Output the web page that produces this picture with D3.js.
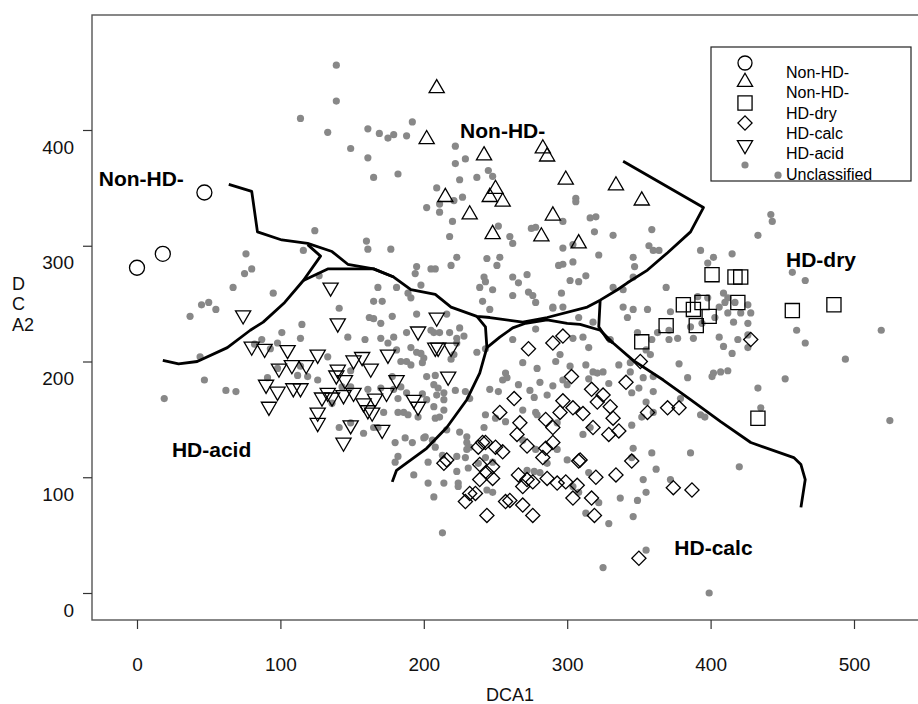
<!DOCTYPE html>
<html>
<head>
<meta charset="utf-8">
<script src="https://cdn.jsdelivr.net/npm/d3@7"></script>
<style>
  html, body { margin: 0; padding: 0; background: #fff; }
  svg { display: block; font-family: "Liberation Sans", Arial, Helvetica, sans-serif; }
</style>
</head>
<body>
<svg id="chart" width="918" height="704"></svg>
<script>
// ---------------- DATA (DCA1, DCA2) ----------------
const xTicks = [0, 100, 200, 300, 400, 500];
const yTicks = [0, 100, 200, 300, 400];

const legendLabels = ["Non-HD-", "Non-HD-", "HD-dry", "HD-calc", "HD-acid", "Unclassified"];

const nonHdLeft = [[0,281],[18,293],[47,346]];

const nonHdTop = [[209,436],[202,392],[242,378],[283,384],[286,377],[299,357],[334,352],[352,339],
  [250,349],[246,342],[255,338],[215,342],[232,327],[290,326],[248,310],[282,308],[308,302]];

const hdDry = [[401,275],[417,273],[421,273],[381,249],[388,245],[394,251],[399,239],[419,251],
  [457,244],[486,249],[369,231],[390,231],[352,217],[433,151]];

const hdCalc = [[297,222],[290,216],[273,211],[351,200],[428,219],[303,187],[341,182],[317,176],
  [325,171],[263,168],[297,166],[304,160],[295,156],[311,155],[330,161],[321,165],[332,151],
  [356,156],[370,160],[378,160],[253,156],[267,147],[285,150],[290,143],[318,143],[329,137],
  [336,140],[265,137],[290,130],[241,130],[250,126],[272,127],[285,125],[255,122],[283,117],
  [309,115],[345,114],[216,115],[214,112],[239,111],[248,109],[244,104],[239,98],[248,99],
  [266,102],[272,98],[276,96],[269,92],[236,86],[232,86],[229,79],[257,79],[260,80],[269,76],
  [276,67],[244,67],[286,99],[293,95],[299,96],[304,82],[307,93],[308,114],[320,100],[334,102],
  [317,82],[319,67],[374,91],[387,89],[350,30],[243,130],[238,126]];

const hdAcid = [[135,264],[74,240],[140,233],[196,226],[209,238],[80,213],[89,211],[105,210],
  [126,206],[99,194],[108,197],[118,197],[151,201],[157,204],[163,194],[175,206],[208,212],
  [210,212],[219,212],[139,188],[145,184],[140,193],[217,187],[181,184],[90,180],[98,174],
  [109,177],[114,177],[133,173],[129,169],[144,171],[151,173],[166,168],[174,173],[193,167],
  [196,161],[92,161],[126,156],[126,147],[158,164],[161,158],[164,156],[149,145],[171,141],
  [144,130],[136,169]];

const unclassified = [[139,456],[139,425],[114,410],[133,398],[161,401],[169,397],[175,393],[179,396],
  [192,407],[188,395],[149,384],[161,376],[222,386],[229,375],[222,371],[165,359],[182,362],
  [225,357],[237,359],[245,365],[248,360],[209,350],[227,342],[221,339],[211,336],[202,333],
  [211,329],[220,321],[218,308],[124,313],[160,304],[161,297],[177,297],[116,296],[76,293],
  [80,280],[75,276],[223,290],[244,289],[219,283],[205,280],[208,280],[195,282],[194,276],
  [127,274],[67,264],[95,259],[168,264],[181,264],[198,266],[189,259],[191,255],[242,273],
  [239,264],[241,252],[243,269],[45,249],[50,251],[55,245],[37,239],[141,246],[162,238],
  [165,237],[170,233],[178,239],[195,241],[216,241],[225,229],[218,225],[228,222],[207,225],
  [205,227],[188,225],[179,221],[115,232],[101,225],[87,219],[114,220],[147,221],[159,219],
  [170,220],[223,220],[165,252],[171,252],[237,208],[243,211],[98,216],[82,215],[93,211],
  [44,204],[47,184],[62,175],[69,174],[19,168],[133,204],[114,196],[98,194],[112,188],
  [119,187],[126,184],[91,186],[149,192],[149,178],[161,176],[170,177],[179,176],[181,210],
  [184,200],[188,200],[191,197],[191,212],[195,208],[198,207],[200,203],[202,187],[208,188],
  [207,180],[210,177],[214,173],[209,171],[222,175],[229,174],[232,168],[214,167],[182,168],
  [172,156],[186,156],[189,154],[196,152],[211,152],[214,158],[208,151],[136,164],[143,178],
  [149,147],[141,143],[158,138],[165,143],[168,143],[180,130],[187,134],[192,130],[200,134],
  [201,135],[216,141],[225,139],[230,135],[230,130],[230,124],[223,118],[213,119],[203,113],
  [182,118],[180,113],[193,102],[203,95],[214,95],[224,95],[223,105],[207,83],[224,92],
  [213,52],[211,225],[175,216],[223,216],[221,206],[199,199],[219,202],[178,187],[184,178],
  [188,173],[202,167],[199,172],[182,156],[207,161],[206,132],[208,126],[232,126],[229,117],
  [231,108],[244,89],[248,87],[238,112],[243,117],[248,113],[272,106],[277,105],[281,104],
  [304,92],[308,87],[315,104],[322,78],[313,69],[329,60],[337,82],[346,66],[349,80],[355,87],
  [353,98],[362,107],[359,121],[372,98],[386,121],[346,125],[420,109],[345,117],[325,22],
  [355,37],[399,0],[278,251],[290,247],[297,247],[308,238],[318,234],[278,228],[262,219],
  [295,206],[315,212],[330,219],[313,197],[302,196],[318,191],[321,190],[325,191],[336,197],
  [344,199],[281,182],[297,184],[300,180],[290,179],[315,185],[329,181],[344,191],[353,186],
  [360,187],[345,173],[350,177],[360,174],[355,165],[277,169],[286,171],[257,190],[255,184],
  [266,180],[246,176],[252,174],[269,158],[278,156],[311,137],[316,143],[345,145],[352,152],
  [360,156],[379,168],[384,186],[393,154],[396,152],[402,190],[407,191],[412,192],[401,187],
  [433,177],[435,160],[415,207],[426,212],[426,223],[419,219],[409,213],[406,221],[388,220],
  [386,230],[371,227],[363,225],[359,219],[355,210],[358,206],[416,234],[421,242],[346,245],
  [342,238],[356,245],[339,247],[372,243],[403,238],[252,317],[260,308],[262,302],[253,290],
  [251,283],[262,273],[272,275],[266,268],[248,262],[273,260],[276,257],[262,257],[246,245],
  [306,341],[306,338],[297,321],[316,324],[320,325],[319,312],[332,309],[359,314],[278,316],
  [275,315],[297,298],[304,301],[322,292],[297,284],[294,283],[304,286],[346,290],[347,282],
  [346,273],[357,300],[360,296],[364,296],[313,274],[302,270],[308,269],[296,259],[290,246],
  [332,264],[339,262],[304,220],[311,221],[292,200],[269,199],[279,194],[258,186],[274,175],
  [250,151],[257,148],[279,154],[293,147],[269,132],[293,124],[278,124],[286,112],[300,115],
  [369,264],[377,220],[371,219],[394,233],[426,233],[428,242],[426,249],[412,255],[409,259],
  [410,251],[412,242],[406,247],[391,256],[398,255],[417,251],[398,285],[402,290],[415,293],
  [393,296],[442,327],[443,321],[433,309],[457,277],[466,270],[460,227],[466,216],[494,202],
  [519,227],[525,149],[452,185],[378,198],[349,225],[243,154],[242,143],[447,361]];

// boundary lines
const boundaryA = [[64,353],[80,347],[84,312],[101,305],[119,302],[136,295],[147,284],[165,280],
  [179,273],[191,262],[208,258],[219,247],[237,239],[246,238],[269,234],[286,238],[314,247],
  [323,253],[335,262],[342,268],[356,279],[370,294],[386,312],[395,333],[339,373]];
const boundaryB = [[18,201],[29,198],[42,200],[63,212],[79,227],[88,234],[103,251],[116,270],
  [128,291],[119,301]];
const boundaryC = [[116,270],[133,280],[165,280],[179,273]];
const boundaryD = [[237,239],[243,230],[244,212],[239,190],[230,167],[216,143],[202,125],
  [191,115],[181,106],[178,96]];
const boundaryE = [[244,212],[253,221],[262,229],[271,233],[286,236],[300,233],[309,232],
  [323,227],[332,216],[346,201],[367,184],[386,167],[407,148],[428,130],[458,117],[463,111],
  [466,98],[463,74]];
const boundaryF = [[323,253],[322,230],[328,219],[332,216]];

const regionLabels = [
  {text: "Non-HD-", x: 3, y: 352},
  {text: "Non-HD-", x: 255, y: 393},
  {text: "HD-dry", x: 477, y: 282},
  {text: "HD-acid", x: 52, y: 117.5},
  {text: "HD-calc", x: 402, y: 33}
];

// ---------------- DRAWING ----------------
const svg = d3.select("#chart");
const x = d3.scaleLinear().domain([0, 500]).range([137, 854]);
const y = d3.scaleLinear().domain([0, 400]).range([593, 130]);

const frameLeft = 92, frameTop = 15, frameBottom = 620;

svg.append("rect")
  .attr("x", frameLeft).attr("y", frameTop)
  .attr("width", 918 - frameLeft + 20).attr("height", frameBottom - frameTop)
  .attr("fill", "none").attr("stroke", "#555").attr("stroke-width", 1.4);

const xAxis = svg.append("g").attr("transform", `translate(0,${frameBottom})`)
  .call(d3.axisBottom(x).tickValues(xTicks).tickSize(9).tickPadding(29).tickFormat(d3.format("d")));
xAxis.select(".domain").remove();
xAxis.selectAll("line").attr("stroke", "#333").attr("stroke-width", 1.2);
xAxis.selectAll("text").attr("font-size", 19).attr("fill", "#111")
  .attr("font-family", "Liberation Sans, Arial, sans-serif");

const yAxis = svg.append("g").attr("transform", `translate(${frameLeft},0)`)
  .call(d3.axisLeft(y).tickValues(yTicks).tickSize(9).tickPadding(9).tickFormat(d3.format("d")));
yAxis.select(".domain").remove();
yAxis.selectAll("line").attr("stroke", "#333").attr("stroke-width", 1.2);
yAxis.selectAll("text").attr("font-size", 19).attr("fill", "#111")
  .attr("dy", null).attr("y", 23)
  .attr("font-family", "Liberation Sans, Arial, sans-serif");

svg.append("text").attr("x", 510).attr("y", 701).attr("text-anchor", "middle")
  .attr("font-size", 18).attr("fill", "#111").text("DCA1");
[["D", 290], ["C", 310], ["A2", 331]].forEach(([t, yy]) => {
  svg.append("text").attr("x", 12).attr("y", yy).attr("font-size", 18).attr("fill", "#111").text(t);
});

const legend = svg.append("g");
legend.append("rect").attr("x", 711).attr("y", 47).attr("width", 200).attr("height", 134)
  .attr("fill", "#fff").attr("stroke", "#222").attr("stroke-width", 1.2);

svg.append("g").selectAll("circle").data(unclassified).join("circle")
  .attr("cx", d => x(d[0])).attr("cy", d => y(d[1])).attr("r", 3.6).attr("fill", "#888");

const line = d3.line().x(d => x(d[0])).y(d => y(d[1]));
[boundaryA, boundaryB, boundaryC, boundaryD, boundaryE, boundaryF].forEach(b => {
  svg.append("path").attr("d", line(b)).attr("fill", "none")
    .attr("stroke", "#000").attr("stroke-width", 2.8).attr("stroke-linejoin", "round");
});

const symStyle = sel => sel.attr("fill", "none").attr("stroke", "#000").attr("stroke-width", 1.3);
const triUp = d3.symbol().type(d3.symbolTriangle).size(100)();
const square = d3.symbol().type(d3.symbolSquare).size(200)();
const diamond = d3.symbol().type(d3.symbolSquare).size(100)();

svg.append("g").selectAll("circle").data(nonHdLeft).join("circle")
  .attr("cx", d => x(d[0])).attr("cy", d => y(d[1])).attr("r", 7.5).call(symStyle);
svg.append("g").selectAll("path").data(nonHdTop).join("path")
  .attr("d", triUp).attr("transform", d => `translate(${x(d[0])},${y(d[1])})`).call(symStyle);
svg.append("g").selectAll("path").data(hdDry).join("path")
  .attr("d", square).attr("transform", d => `translate(${x(d[0])},${y(d[1])})`).call(symStyle);
svg.append("g").selectAll("path").data(hdCalc).join("path")
  .attr("d", diamond).attr("transform", d => `translate(${x(d[0])},${y(d[1])}) rotate(45)`).call(symStyle);
svg.append("g").selectAll("path").data(hdAcid).join("path")
  .attr("d", triUp).attr("transform", d => `translate(${x(d[0])},${y(d[1])}) rotate(180)`).call(symStyle);

svg.append("g").selectAll("text").data(regionLabels).join("text")
  .attr("x", d => x(d.x)).attr("y", d => y(d.y)).attr("text-anchor", "middle")
  .attr("font-size", 21).attr("font-weight", "bold").attr("fill", "#000").text(d => d.text);

const lx = 745;
const legendY = [63, 82, 103, 123, 145, 165];
const legendTextY = [78, 98, 119, 139, 159, 180];
legend.append("circle").attr("cx", lx).attr("cy", legendY[0]).attr("r", 7).call(symStyle);
legend.append("path").attr("d", triUp).attr("transform", `translate(${lx},${legendY[1]})`).call(symStyle);
legend.append("path").attr("d", square).attr("transform", `translate(${lx},${legendY[2]})`).call(symStyle);
legend.append("path").attr("d", diamond).attr("transform", `translate(${lx},${legendY[3]}) rotate(45)`).call(symStyle);
legend.append("path").attr("d", triUp).attr("transform", `translate(${lx},${legendY[4]}) rotate(180)`).call(symStyle);
legend.append("circle").attr("cx", lx).attr("cy", legendY[5]).attr("r", 3.6).attr("fill", "#888");
legend.selectAll("text.lab").data(legendLabels).join("text").attr("class", "lab")
  .attr("x", 786).attr("y", (d, i) => legendTextY[i]).attr("font-size", 16).attr("fill", "#000")
  .text(d => d);
</script>
</body>
</html>
